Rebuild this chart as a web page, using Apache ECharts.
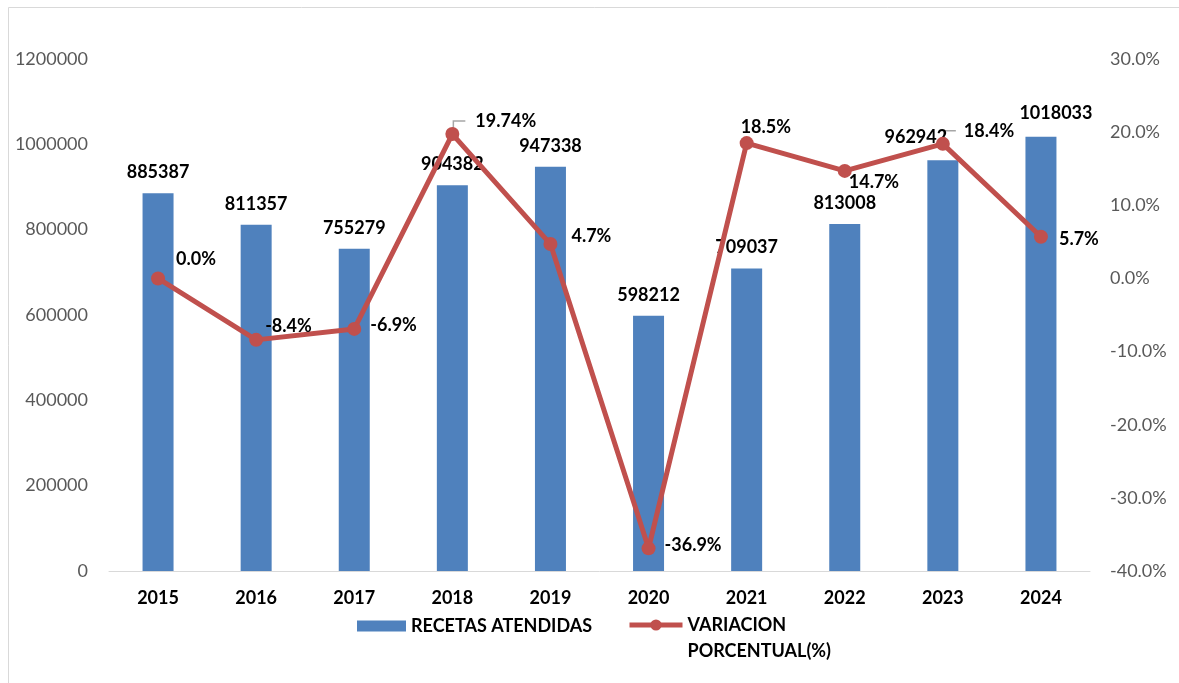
<!DOCTYPE html>
<html>
<head>
<meta charset="utf-8">
<script src="https://cdn.jsdelivr.net/npm/echarts@6/dist/echarts.min.js"></script>
<style>
  html, body { margin: 0; padding: 0; background: #ffffff; }
  #chart { width: 1179px; height: 683px; }
</style>
</head>
<body>
<div id="chart"></div>
<script>
// Prescriptions served per year and year-over-year percentage change
const years = ['2015', '2016', '2017', '2018', '2019', '2020', '2021', '2022', '2023', '2024'];
const recetas = [885387, 811357, 755279, 904382, 947338, 598212, 709037, 813008, 962942, 1018033];
const variacion = [0.0, -8.4, -6.9, 19.74, 4.7, -36.9, 18.5, 14.7, 18.4, 5.7];

// Axis ranges (left: count, right: percent)
const leftAxis = { min: 0, max: 1200000, interval: 200000 };
const rightAxis = { min: -40, max: 30, interval: 10 };

// Label nudges so the labels sit clear of the line
const barLabelOffsets = [[0, 0], [0, 0], [0, 0], [0, 0], [0, 0], [0, 0], [0, 0], [0, 0], [-27, -2], [15, -2]];
const lineLabelOffsets = [[6, -19], [-3, -14], [4, -4], [11, -13], [9, -8], [4, -3], [-18, -16], [-8, 11], [9, -13], [6, 2]];
// Points whose label is tied back by a small leader line
const leaderIdx = [3, 8];

const FONT = 'Lato, "Liberation Sans", sans-serif';
const BLUE = '#4F81BD';
const RED = '#C0504D';

function pctLabel(v) {
  const s2 = v.toFixed(2);
  return (s2.endsWith('0') ? v.toFixed(1) : s2) + '%';
}

const chart = echarts.init(document.getElementById('chart'), null, { renderer: 'canvas' });

const option = {
  animation: false,
  backgroundColor: '#ffffff',
  textStyle: { fontFamily: FONT },
  grid: { left: 109, right: 89, top: 59, bottom: 112, containLabel: false },
  legend: [
    {
      data: ['RECETAS ATENDIDAS'],
      left: 352, top: 612,
      icon: 'rect',
      itemWidth: 49, itemHeight: 11,
      selectedMode: false,
      textStyle: { fontFamily: FONT, fontSize: 18, fontWeight: 'bold', color: '#000000' }
    },
    {
      data: ['VARIACION PORCENTUAL(%)'],
      left: 622, top: 581,
      itemWidth: 53, itemHeight: 14,
      selectedMode: false,
      lineStyle: { width: 5 },
      // empty first line keeps "VARIACION" level with the icon, the rest wraps below
      formatter: function () { return ' \nVARIACION\nPORCENTUAL(%)'; },
      textStyle: {
        fontFamily: FONT, fontSize: 18, fontWeight: 'bold', color: '#000000',
        lineHeight: 26
      }
    }
  ],
  xAxis: {
    type: 'category',
    data: years,
    axisTick: { show: false },
    axisLine: { lineStyle: { color: '#D9D9D9', width: 1 } },
    axisLabel: { fontFamily: FONT, fontSize: 18, fontWeight: 'bold', color: '#000000', margin: 18 }
  },
  yAxis: [
    {
      type: 'value',
      min: leftAxis.min, max: leftAxis.max, interval: leftAxis.interval,
      axisLine: { show: false },
      axisTick: { show: false },
      splitLine: { show: false },
      axisLabel: {
        fontFamily: FONT, fontSize: 18, color: '#595959', margin: 21,
        formatter: function (v) { return String(v); }
      }
    },
    {
      type: 'value',
      min: rightAxis.min, max: rightAxis.max, interval: rightAxis.interval,
      position: 'right',
      axisLine: { show: false },
      axisTick: { show: false },
      splitLine: { show: false },
      axisLabel: {
        fontFamily: FONT, fontSize: 18, color: '#595959', margin: 20,
        formatter: function (v) { return v.toFixed(1) + '%'; }
      }
    }
  ],
  series: [
    {
      name: 'RECETAS ATENDIDAS',
      type: 'bar',
      yAxisIndex: 0,
      barWidth: 31,
      itemStyle: { color: BLUE },
      data: recetas.map(function (v, i) {
        return { value: v, label: { offset: barLabelOffsets[i] } };
      }),
      label: {
        show: true, position: 'top', distance: 12,
        fontFamily: FONT, fontSize: 18, fontWeight: 'bold', color: '#000000'
      }
    },
    {
      name: 'VARIACION PORCENTUAL(%)',
      type: 'line',
      yAxisIndex: 1,
      symbol: 'circle',
      symbolSize: 14,
      lineStyle: { color: RED, width: 5 },
      itemStyle: { color: RED },
      z: 3,
      data: variacion.map(function (v, i) {
        return { value: v, label: { offset: lineLabelOffsets[i] } };
      }),
      label: {
        show: true, position: 'right', distance: 5,
        fontFamily: FONT, fontSize: 18, fontWeight: 'bold', color: '#000000',
        formatter: function (p) { return pctLabel(p.value); }
      }
    }
  ],
  graphic: [
    {
      type: 'rect', silent: true, z: -10,
      shape: { x: 8.5, y: 7.5, width: 1200, height: 700 },
      style: { fill: 'none', stroke: '#D9D9D9', lineWidth: 1 }
    }
  ]
};

chart.setOption(option);

// Leader lines from selected points up to their labels
const leaders = leaderIdx.map(function (i) {
  const p = chart.convertToPixel({ xAxisIndex: 0, yAxisIndex: 1 }, [i, variacion[i]]);
  return {
    type: 'polyline', silent: true, z: 2,
    shape: { points: [[p[0] + 1, p[1] - 6], [p[0] + 1, p[1] - 13], [p[0] + 13, p[1] - 13]] },
    style: { stroke: '#A6A6A6', lineWidth: 1.5, fill: 'none' }
  };
});
chart.setOption({ graphic: option.graphic.concat(leaders) });
</script>
</body>
</html>
